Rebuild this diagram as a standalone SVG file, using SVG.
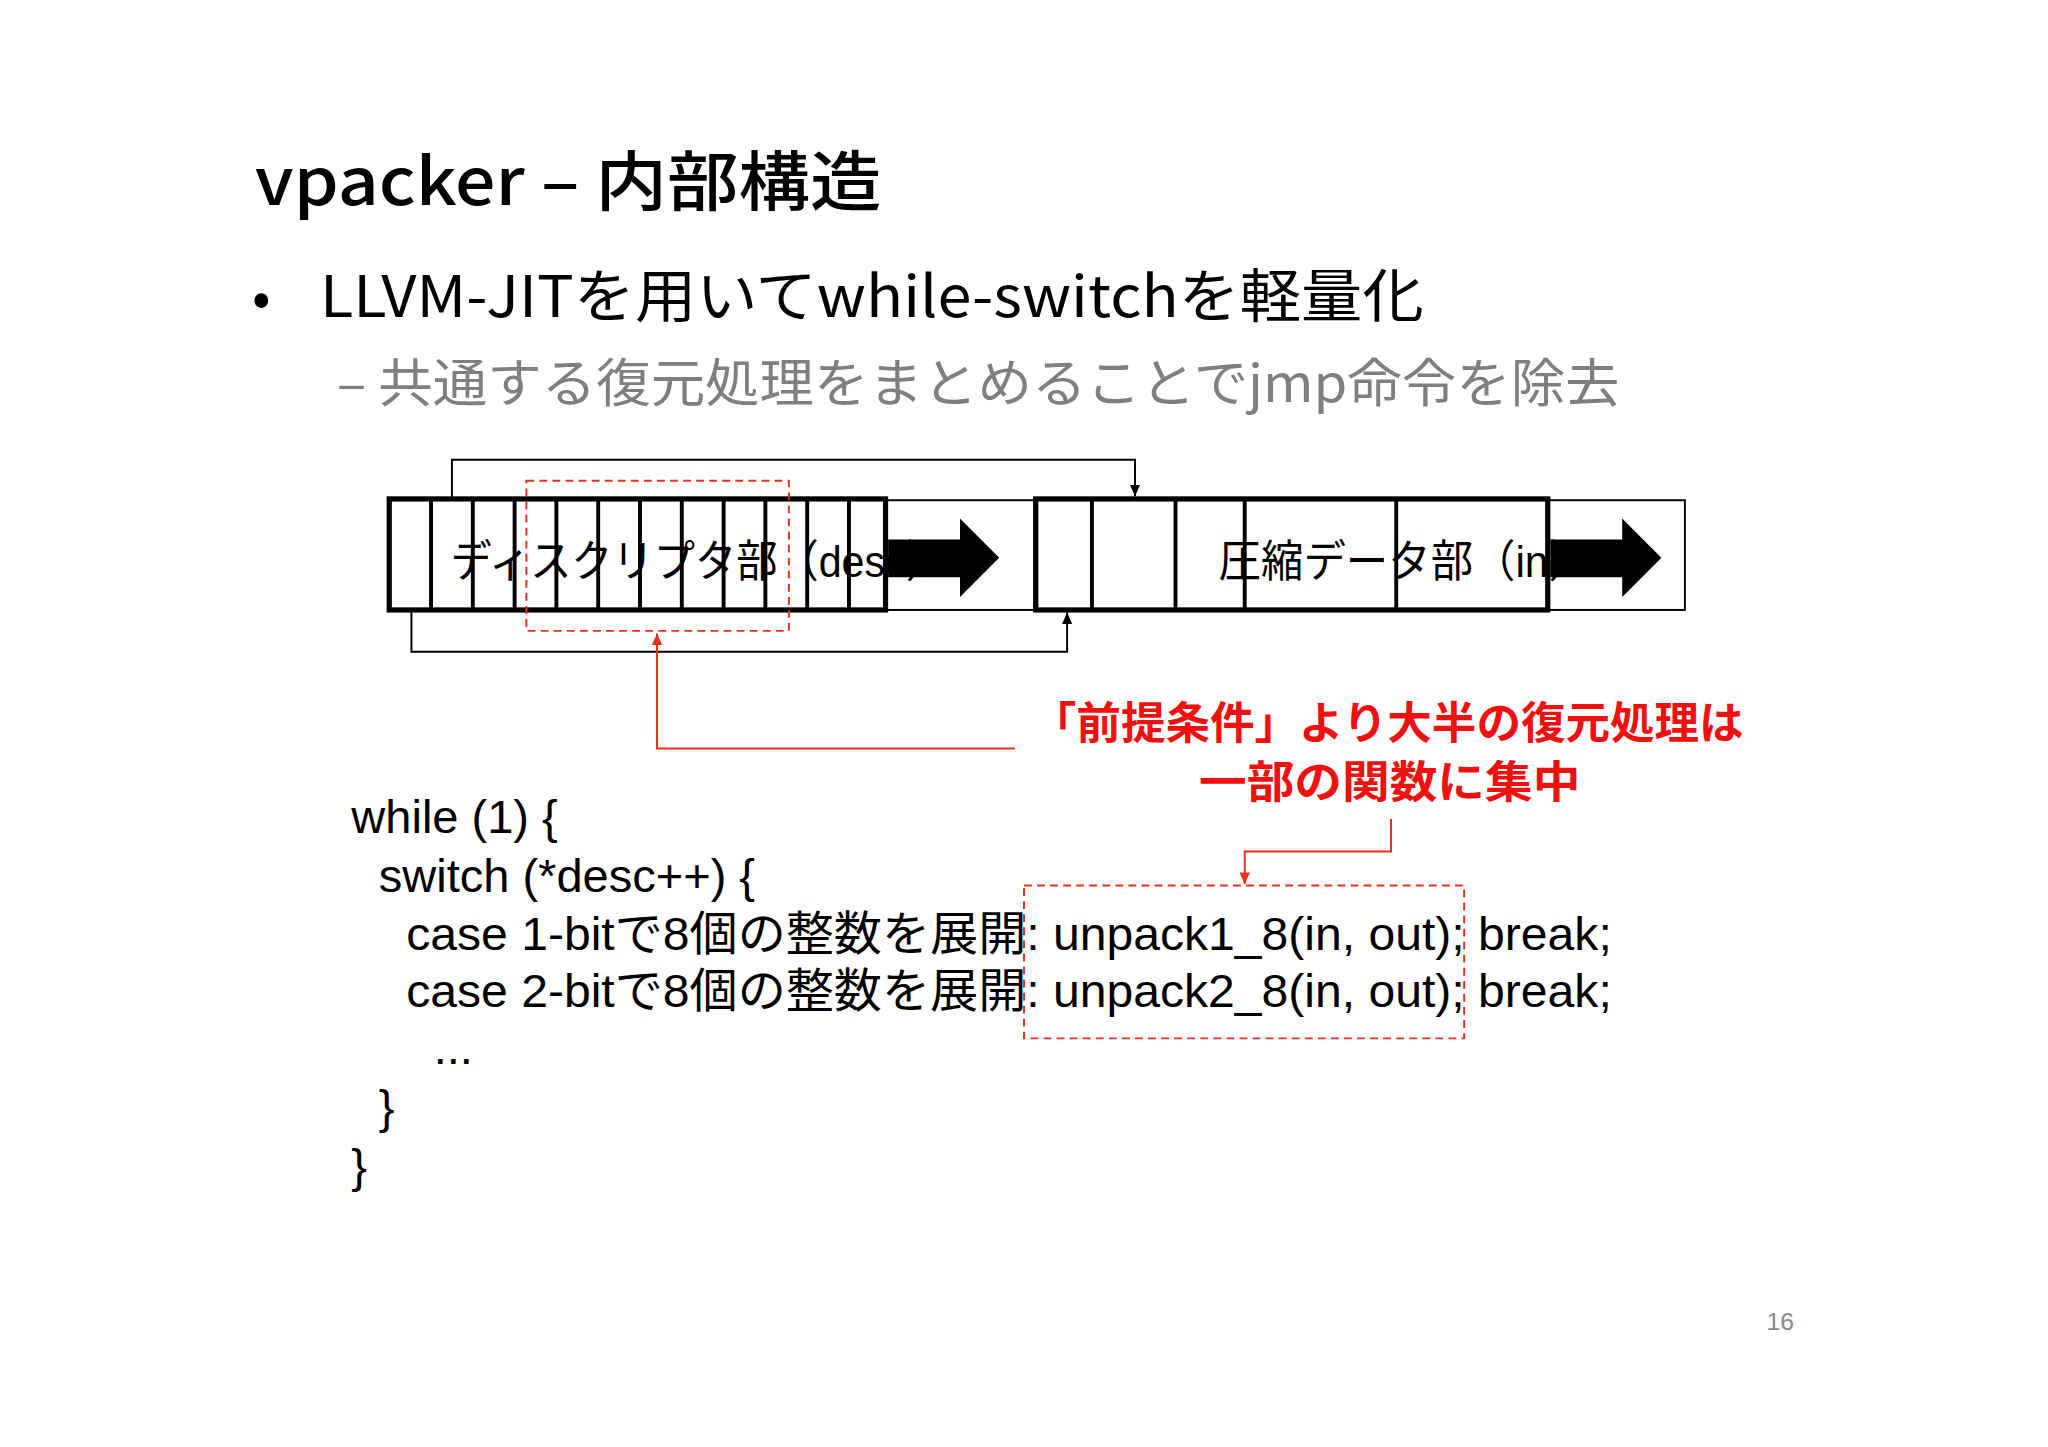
<svg xmlns="http://www.w3.org/2000/svg" width="2048" height="1447" viewBox="0 0 2048 1447">
<style>
.t{font-family:"Liberation Sans","Noto Sans CJK JP",sans-serif}
.j{font-family:"Noto Sans CJK JP","Noto Sans",sans-serif}
.thick{fill:none;stroke:#000;stroke-width:4}
.thin{fill:none;stroke:#000;stroke-width:1.5}
.rd{fill:none;stroke:#e8301c;stroke-width:1.5;stroke-dasharray:6 4}
.code{font-family:"Liberation Sans","Noto Sans CJK JP",sans-serif;font-size:36px;fill:#000}
</style>
<defs>
<marker id="ab" markerWidth="10" markerHeight="10" refX="9" refY="5" orient="auto" markerUnits="userSpaceOnUse"><path d="M0,1 L9,5 L0,9z" fill="#000"/></marker>
<marker id="ar" markerWidth="10" markerHeight="10" refX="9" refY="5" orient="auto" markerUnits="userSpaceOnUse"><path d="M0,1 L9,5 L0,9z" fill="#e8301c"/></marker>
</defs>
<rect width="2048" height="1447" fill="#fff"/>
<g transform="scale(1.30612)">
<g id="title"><text class="j" x="195" y="157" font-size="50" font-weight="500" fill="#000" textLength="480" lengthAdjust="spacingAndGlyphs">vpacker – 内部構造</text></g>
<g id="bullet"><text class="j" x="193" y="243" font-size="42" fill="#000">•</text>
<text class="j" x="245" y="243" font-size="44" fill="#000" textLength="845" lengthAdjust="spacingAndGlyphs">LLVM-JITを用いてwhile-switchを軽量化</text></g>
<g id="sub"><text class="j" x="258" y="308" font-size="40" fill="#7f7f7f" textLength="982" lengthAdjust="spacingAndGlyphs">– 共通する復元処理をまとめることでjmp命令を除去</text></g>

<g id="desc">
<rect x="678" y="383" width="114" height="84" class="thin"/>
<rect x="298" y="382" width="380" height="85" class="thick"/>
<path d="M330,382V467M362,382V467M394,382V467M426,382V467M458,382V467M490,382V467M522,382V467M554,382V467M586,382V467M618,382V467M650,382V467" stroke="#000" stroke-width="3"/>
<text class="t" x="345" y="442" font-size="34" fill="#000" textLength="380" lengthAdjust="spacingAndGlyphs">ディスクリプタ部（desc）</text>
<path d="M680,413H735V397L765,427L735,457V442H680Z" fill="#000"/>
</g>
<g id="data">
<rect x="1185" y="383" width="105" height="84" class="thin"/>
<rect x="793" y="382" width="392" height="85" class="thick"/>
<path d="M836,382V467M900,382V467M953,382V467M1069,382V467" stroke="#000" stroke-width="3"/>
<text class="t" x="933" y="442" font-size="34" fill="#000" textLength="285" lengthAdjust="spacingAndGlyphs">圧縮データ部（in）</text>
<path d="M1187,413H1242V397L1272,427L1242,457V442H1187Z" fill="#000"/>
</g>
<g id="hl1"><rect x="403" y="368" width="201" height="115" class="rd"/></g>
<g id="note"><text class="j" x="790" y="566" font-size="34" font-weight="bold" fill="#f01010" textLength="545" lengthAdjust="spacingAndGlyphs">「前提条件」より大半の復元処理は</text>
<text class="j" x="918" y="611" font-size="34" font-weight="bold" fill="#f01010" textLength="292" lengthAdjust="spacingAndGlyphs">一部の関数に集中</text></g>
<g id="code">
<text class="code" x="269" y="638">while (1) {</text>
<text class="code" x="290" y="683">switch (*desc++) {</text>
<text class="code" x="311" y="727" textLength="923" lengthAdjust="spacingAndGlyphs">case 1-bitで8個の整数を展開: unpack1_8(in, out); break;</text>
<text class="code" x="311" y="771" textLength="923" lengthAdjust="spacingAndGlyphs">case 2-bitで8個の整数を展開: unpack2_8(in, out); break;</text>
<text class="code" x="332" y="815">...</text>
<text class="code" x="290" y="860">}</text>
<text class="code" x="269" y="905">}</text>
</g>
<g id="hl2"><rect x="784" y="678" width="337" height="117" class="rd"/></g>
<g id="connectors">
<path d="M346,382V352H869V380" class="thin" marker-end="url(#ab)"/>
<path d="M315,467V499H817V469" class="thin" marker-end="url(#ab)"/>
<path d="M777,573H503V485" fill="none" stroke="#e8301c" stroke-width="1.5" marker-end="url(#ar)"/>
<path d="M1065,627V652H953V677" fill="none" stroke="#e8301c" stroke-width="1.5" marker-end="url(#ar)"/>
</g>
<g id="page"><text class="t" x="1363" y="1018" font-size="19" fill="#8a8a8a" text-anchor="middle">16</text></g>
</g>
</svg>
